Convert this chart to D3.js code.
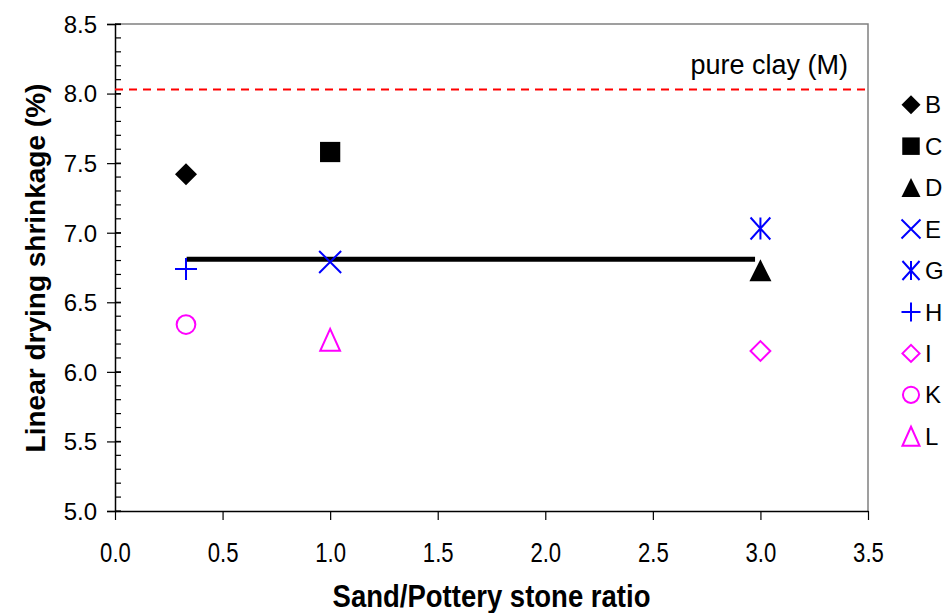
<!DOCTYPE html>
<html><head><meta charset="utf-8">
<script src="https://cdn.jsdelivr.net/npm/d3@7"></script>
<style>body{margin:0;background:#fff}svg{display:block}text{font-family:"Liberation Sans",Arial,sans-serif}</style>
</head><body>
<svg id="c" width="949" height="613"></svg>
<script>
const seriesNames = ["B","C","D","E","G","H","I","K","L"];
const seriesX =     [0.33, 1.0, 3.0, 1.0, 3.0, 0.33, 3.0, 0.33, 1.0];
const seriesY =     [7.42, 7.58, 6.73, 6.79, 7.03, 6.74, 6.15, 6.34, 6.23];
const seriesShape = ["diamondFill","squareFill","triangleFill","x","asterisk","plus","diamond","circle","triangle"];
const seriesColor = ["#000","#000","#000","#0000ff","#0000ff","#0000ff","#ff00ff","#ff00ff","#ff00ff"];
const meanLineX = [0.333, 2.975];
const meanLineY = [6.81, 6.81];
const pureClay = 8.03;
const pureClayLabel = "pure clay (M)";
const xTicks = [0,0.5,1,1.5,2,2.5,3,3.5];
const yTicks = [5,5.5,6,6.5,7,7.5,8,8.5];

const svg = d3.select("#c");
const L=115,R=868,T=24,B=511;
const x = d3.scaleLinear().domain([0,3.5]).range([L,R]);
const y = d3.scaleLinear().domain([5,8.5]).range([B,T]);

// frame top/right
svg.append("path").attr("d",`M${L},${T}H${R}V${B}`).attr("fill","none").attr("stroke","#808080").attr("stroke-width",1.5);

// minor y ticks
const minor = d3.range(50,86).map(v=>v/10);
svg.append("g").selectAll("line").data(minor).join("line")
  .attr("x1",L).attr("x2",L+6).attr("y1",d=>y(d)).attr("y2",d=>y(d)).attr("stroke","#000").attr("stroke-width",1.2);

// y axis
const ya = svg.append("g").attr("transform",`translate(${L},0)`)
  .call(d3.axisLeft(y).tickValues(yTicks).tickFormat(d3.format(".1f")).tickSize(8).tickPadding(10));
ya.select(".domain").attr("stroke","#000").attr("stroke-width",1.5);
ya.selectAll(".tick line").attr("stroke-width",1.2).attr("x2",-8).attr("x1",6);
ya.selectAll("text").attr("font-size",24).attr("fill","#000").attr("dy","0.35em").style("font-family","'Liberation Sans',Arial,sans-serif");

// x axis
const xa = svg.append("g").attr("transform",`translate(0,${B})`)
  .call(d3.axisBottom(x).tickValues(xTicks).tickFormat(d3.format(".1f")).tickSize(9).tickSizeOuter(0));
xa.select(".domain").attr("stroke","#000").attr("stroke-width",1.5);
xa.selectAll(".tick line").attr("stroke-width",1.2);
xa.selectAll(".tick text").attr("y",null).attr("dy",null)
  .attr("transform","translate(0,51) scale(0.82,1)")
  .attr("font-size",27).attr("fill","#000");

// axis titles
svg.append("text").attr("transform",`translate(${(L+R)/2},607) scale(0.86,1)`).attr("text-anchor","middle")
  .attr("font-size",32).attr("font-weight","bold")
  .text("Sand/Pottery stone ratio");
svg.append("text").attr("transform",`translate(45,268) rotate(-90)`).attr("text-anchor","middle")
  .attr("font-size",28).attr("font-weight","bold").text("Linear drying shrinkage (%)");

// pure clay line
svg.append("line").attr("x1",L).attr("x2",R).attr("y1",y(pureClay)).attr("y2",y(pureClay))
  .attr("stroke","#ff0000").attr("stroke-width",2).attr("stroke-dasharray","8,6");
svg.append("text").attr("x",848).attr("y",y(pureClay)-15).attr("text-anchor","end")
  .attr("font-size",27).text(pureClayLabel);

// mean line
svg.append("path").datum(meanLineX.map((v,i)=>[v,meanLineY[i]]))
  .attr("d",d3.line().x(d=>x(d[0])).y(d=>y(d[1]))).attr("stroke","#000").attr("stroke-width",5).attr("fill","none");

function shape(g, kind, color, s){
  const h=s/2;
  switch(kind){
    case "diamondFill": g.append("path").attr("d",`M0,${-h}L${h},0L0,${h}L${-h},0Z`).attr("fill",color); break;
    case "diamond": g.append("path").attr("d",`M0,${-h*0.9}L${h*0.9},0L0,${h*0.9}L${-h*0.9},0Z`).attr("fill","none").attr("stroke",color).attr("stroke-width",2); break;
    case "squareFill": g.append("rect").attr("x",-h*0.92).attr("y",-h*0.92).attr("width",s*0.92).attr("height",s*0.92).attr("fill",color); break;
    case "triangleFill": g.append("path").attr("d",`M0,${-h}L${h},${h}L${-h},${h}Z`).attr("fill",color); break;
    case "triangle": g.append("path").attr("d",`M0,${-h}L${h*0.9},${h}L${-h*0.9},${h}Z`).attr("fill","none").attr("stroke",color).attr("stroke-width",2); break;
    case "circle": g.append("circle").attr("r",h*0.85).attr("fill","none").attr("stroke",color).attr("stroke-width",2); break;
    case "x": g.append("path").attr("d",`M${-h},${-h}L${h},${h}M${h},${-h}L${-h},${h}`).attr("stroke",color).attr("stroke-width",2); break;
    case "plus": g.append("path").attr("d",`M${-h},0L${h},0M0,${-h}L0,${h}`).attr("stroke",color).attr("stroke-width",2); break;
    case "asterisk": g.append("path").attr("d",`M${-h*0.9},${-h}L${h*0.9},${h}M${h*0.9},${-h}L${-h*0.9},${h}M0,${-h}L0,${h}`).attr("stroke",color).attr("stroke-width",2); break;
  }
}

// points
seriesNames.forEach((n,i)=>{
  const g=svg.append("g").attr("transform",`translate(${x(seriesX[i])},${y(seriesY[i])})`);
  shape(g,seriesShape[i],seriesColor[i],22);
});

// legend
const leg = d3.scaleBand().domain(seriesNames).range([84,457]);
seriesNames.forEach((n,i)=>{
  const cy = leg(n)+leg.bandwidth()/2;
  const g=svg.append("g").attr("transform",`translate(911,${cy})`);
  shape(g,seriesShape[i],seriesColor[i],19);
  svg.append("text").attr("x",925).attr("y",cy).attr("dy","0.36em").attr("font-size",24).text(n);
});
</script>
</body></html>
